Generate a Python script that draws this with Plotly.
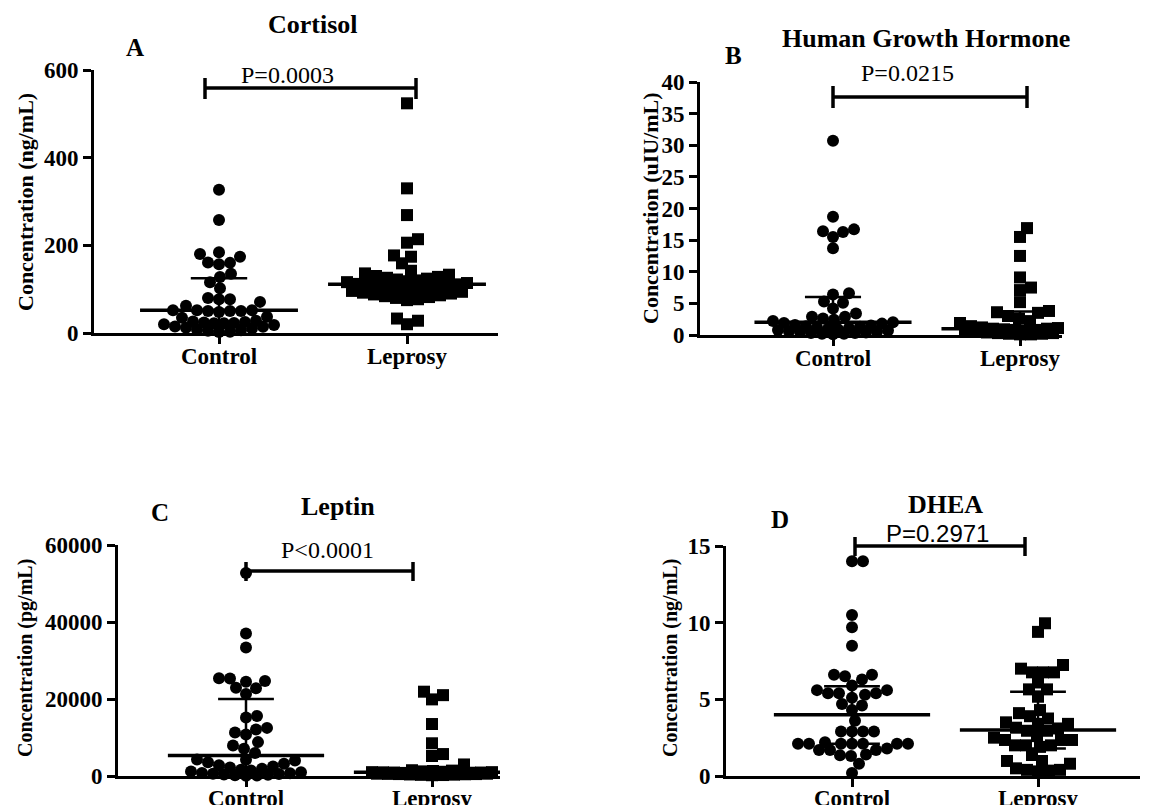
import numpy as np
import plotly.graph_objects as go

W, H = 1153, 805

categories = ["Control", "Leprosy"]

# ---- Panel A: Cortisol (ng/mL)
cortisol_control = [327, 258, 184, 174, 180, 160, 157, 161, 135, 128, 116, 102, 80, 77, 77, 71,
                    62, 52, 52, 50, 50, 52, 50, 48, 37, 35, 28, 26, 25, 24, 23, 22, 22, 20, 18,
                    15, 14, 12, 10, 8, 6, 5, 3, 2]
cortisol_leprosy = [524, 330, 269, 214, 206, 177, 174, 159, 142, 136, 133, 130, 128, 126, 124,
                    122, 120, 118, 116, 114, 112, 111, 110, 109, 108, 106, 104, 102, 100, 98, 96,
                    94, 92, 90, 88, 86, 84, 82, 80, 77, 75, 33, 28, 20]
cortisol_median = [52, 111]
cortisol_q1 = [18, 92]
cortisol_q3 = [125, 128]

# ---- Panel B: Human Growth Hormone (uIU/mL)
hgh_control = [30.7, 18.7, 16.7, 16.3, 15.5, 16.4, 13.7, 6.4, 6.6, 5.3, 5.1, 4.2, 3.4, 2.9, 2.9,
               2.4, 2.6, 2.2, 2.0, 1.9, 1.8, 1.6, 1.5, 1.4, 1.3, 1.2, 1.1, 1.0, 0.9, 0.8, 0.7,
               0.6, 0.5, 0.5, 0.4, 0.3, 0.3, 0.2, 0.2, 0.1]
hgh_leprosy = [16.9, 15.5, 12.5, 9.1, 7.5, 7.1, 5.2, 3.8, 3.6, 3.5, 3.0, 2.6, 2.2, 1.9, 1.6, 1.4,
               1.3, 1.2, 1.1, 1.0, 1.0, 0.9, 0.8, 0.8, 0.7, 0.6, 0.5, 0.5, 0.4, 0.4, 0.3, 0.3,
               0.2, 0.2, 0.1, 0.1]
hgh_median = [2.0, 1.0]
hgh_q1 = [0.7, 0.4]
hgh_q3 = [6.0, 3.7]

# ---- Panel C: Leptin (pg/mL)
leptin_control = [52700, 37000, 33400, 24700, 25400, 25300, 24500, 22900, 22800, 21300, 15200,
                  15600, 12500, 12100, 11300, 10800, 8800, 7900, 7100, 6000, 4300, 4200, 4000,
                  3600, 3200, 2800, 2500, 2200, 1900, 1600, 1400, 1200, 1000, 800, 700, 600, 500,
                  400, 300, 200, 100, 50]
leptin_leprosy = [21900, 21000, 19900, 13500, 8500, 5700, 5200, 3000, 1500, 1400, 1300, 1200,
                  1100, 1000, 1000, 950, 900, 900, 850, 800, 800, 750, 700, 700, 650, 600, 600,
                  550, 500, 500, 450, 400, 350, 300, 250, 200]
leptin_median = [5300, 960]
leptin_q1 = [1000, 400]
leptin_q3 = [20000, 1500]

# ---- Panel D: DHEA (ng/mL)
dhea_control = [14.0, 14.0, 10.5, 9.7, 8.5, 6.6, 6.5, 6.6, 6.3, 5.9, 5.6, 5.4, 5.4, 5.1, 5.3, 5.4,
                5.6, 4.7, 4.6, 4.3, 3.6, 2.9, 2.9, 2.9, 2.9, 2.2, 2.1, 2.1, 2.1, 2.1, 2.1, 2.1,
                2.1, 1.7, 1.7, 1.7, 1.8, 1.35, 1.3, 1.4, 0.8, 0.2]
dhea_leprosy = [9.96, 9.4, 7.24, 6.76, 6.76, 6.76, 7.0, 6.1, 5.65, 5.65, 5.17, 4.3, 4.1, 3.75,
                3.9, 3.5, 3.4, 3.4, 3.15, 3.1, 2.95, 2.95, 2.6, 2.35, 2.35, 2.35, 2.5, 2.0, 2.0,
                1.9, 2.0, 1.37, 0.98, 0.98, 0.8, 0.5, 0.4, 0.3, 0.35, 0.4]
dhea_median = [4.0, 3.0]
dhea_q1 = [2.1, 1.8]
dhea_q3 = [5.85, 5.5]

p_values = ["P=0.0003", "P=0.0215", "P<0.0001", "P=0.2971"]
titles = ["Cortisol", "Human Growth Hormone", "Leptin", "DHEA"]
letters = ["A", "B", "C", "D"]
y_titles = ["Concentration (ng/mL)", "Concentration (uIU/mL)",
            "Concentration (pg/mL)", "Concentration (ng/mL)"]
y_max = [600, 40, 60000, 15]
y_dtick = [200, 5, 20000, 5]

SERIF = "Liberation Serif"
SANS = "Liberation Sans"


def fx(px):
    return px / W


def fy(py):
    return 1 - py / H


panels = [
    dict(ctrl=cortisol_control, lep=cortisol_leprosy, med=cortisol_median, q1=cortisol_q1,
         q3=cortisol_q3, xpx=(94, 498), ypx=(70, 333), cat=(219, 407),
         title_at=(313, 25), letter_at=(135, 47), p_at=(287, 75), p_font=SERIF,
         ytitle_at=(25, 202), ytitle_size=22, lab_shift=-8,
         bracket=(205, 416, 88, 78, 99)),
    dict(ctrl=hgh_control, lep=hgh_leprosy, med=hgh_median, q1=hgh_q1, q3=hgh_q3,
         xpx=(700, 1062), ypx=(82, 335), cat=(833, 1020),
         title_at=(926, 38), letter_at=(733, 55), p_at=(907, 73), p_font=SERIF,
         ytitle_at=(650, 208), ytitle_size=22, lab_shift=-8,
         bracket=(833, 1027, 97, 86, 108)),
    dict(ctrl=leptin_control, lep=leptin_leprosy, med=leptin_median, q1=leptin_q1,
         q3=leptin_q3, xpx=(118, 500), ypx=(545, 776), cat=(246, 432),
         title_at=(338, 506), letter_at=(160, 512), p_at=(327, 550), p_font=SERIF,
         ytitle_at=(25, 658), ytitle_size=20, lab_shift=-9,
         bracket=(246, 413, 571, 562, 581)),
    dict(ctrl=dhea_control, lep=dhea_leprosy, med=dhea_median, q1=dhea_q1, q3=dhea_q3,
         xpx=(726, 1140), ypx=(546, 776), cat=(852, 1038),
         title_at=(945, 505), letter_at=(780, 519), p_at=(938, 533), p_font=SANS,
         ytitle_at=(670, 658), ytitle_size=20, lab_shift=-9,
         bracket=(855, 1025, 546, 537, 556)),
]


def swarm(vals, ppu_y, ppu_x, d=11.0, maxw=60):
    vals = np.asarray(vals, float)
    ys = vals * ppu_y
    order = np.argsort(ys, kind="stable")
    cands = [0.0]
    for s in np.arange(1.0, maxw + 0.1, 1.0):
        cands += [s, -s]
    cands = np.array(cands)
    px_l, py_l = [], []
    xs = np.zeros(len(vals))
    for i in order:
        y = ys[i]
        if not px_l:
            chosen = 0.0
        else:
            pxa = np.array(px_l)
            pya = np.array(py_l)
            md = np.min(np.hypot(pxa[None, :] - cands[:, None], pya[None, :] - y), axis=1)
            ok = np.where(md >= d)[0]
            chosen = cands[ok[0]] if len(ok) else cands[int(np.argmax(md))]
        xs[i] = chosen
        px_l.append(chosen)
        py_l.append(y)
    return xs / ppu_x


fig = go.Figure()
shapes = []
annotations = []
layout_axes = {}

for k, p in enumerate(panels):
    n = "" if k == 0 else str(k + 1)
    xa, ya = "x" + n, "y" + n
    u = p["cat"][1] - p["cat"][0]
    xr = [(p["xpx"][0] - p["cat"][0]) / u, (p["xpx"][1] - p["cat"][0]) / u]
    ppu_y = (p["ypx"][1] - p["ypx"][0]) / y_max[k]

    for gi, (vals, sym) in enumerate([(p["ctrl"], "circle"), (p["lep"], "square")]):
        offs = swarm(vals, ppu_y, u)
        fig.add_trace(go.Scatter(
            x=gi + offs, y=vals, mode="markers", xaxis=xa, yaxis=ya,
            marker=dict(symbol=sym, size=12, color="black", line=dict(width=0)),
            cliponaxis=False, showlegend=False, hoverinfo="y"))
        # median line
        fig.add_trace(go.Scatter(
            x=[gi - 0.42, gi + 0.42], y=[p["med"][gi]] * 2, mode="lines",
            xaxis=xa, yaxis=ya, line=dict(color="black", width=3.5),
            cliponaxis=False, showlegend=False, hoverinfo="skip"))
        # IQR whisker
        cw = 0.15
        fig.add_trace(go.Scatter(
            x=[gi - cw, gi + cw, None, gi, gi, None, gi - cw, gi + cw],
            y=[p["q3"][gi], p["q3"][gi], None, p["q3"][gi], p["q1"][gi], None,
               p["q1"][gi], p["q1"][gi]],
            mode="lines", xaxis=xa, yaxis=ya, line=dict(color="black", width=2.5),
            cliponaxis=False, showlegend=False, hoverinfo="skip"))

    layout_axes["xaxis" + n] = dict(
        domain=[fx(p["xpx"][0]), fx(p["xpx"][1])], range=xr, anchor=ya,
        tickvals=[0, 1], ticktext=categories, showline=True, linecolor="black",
        linewidth=3, ticks="outside", ticklen=8, tickwidth=3, tickcolor="black",
        showgrid=False, zeroline=False, fixedrange=True, automargin=False,
        ticklabelstandoff=p["lab_shift"],
        tickfont=dict(family=SERIF, size=23, color="black", weight="bold"))
    layout_axes["yaxis" + n] = dict(
        domain=[fy(p["ypx"][1]), fy(p["ypx"][0])], range=[0, y_max[k]], anchor=xa,
        dtick=y_dtick[k], tick0=0, tickformat="d", showline=True, linecolor="black",
        linewidth=3, ticks="outside", ticklen=8, tickwidth=3, tickcolor="black",
        showgrid=False, zeroline=False, fixedrange=True, automargin=False,
        tickfont=dict(family=SERIF, size=23, color="black", weight="bold"))

    bx0, bx1, by, bt0, bt1 = p["bracket"]
    for (x0, y0, x1, y1) in [(bx0, by, bx1, by), (bx0, bt0, bx0, bt1), (bx1, bt0, bx1, bt1)]:
        shapes.append(dict(type="line", xref="paper", yref="paper",
                           x0=fx(x0), y0=fy(y0), x1=fx(x1), y1=fy(y1),
                           line=dict(color="black", width=3.5)))

    annotations.append(dict(text="<b>%s</b>" % titles[k], x=fx(p["title_at"][0]),
                            y=fy(p["title_at"][1]), xref="paper", yref="paper",
                            showarrow=False, xanchor="center", yanchor="middle",
                            font=dict(family=SERIF, size=26, color="black")))
    annotations.append(dict(text="<b>%s</b>" % letters[k], x=fx(p["letter_at"][0]),
                            y=fy(p["letter_at"][1]), xref="paper", yref="paper",
                            showarrow=False, xanchor="center", yanchor="middle",
                            font=dict(family=SERIF, size=25, color="black")))
    annotations.append(dict(text=p_values[k].replace("<", "&lt;"), x=fx(p["p_at"][0]),
                            y=fy(p["p_at"][1]), xref="paper", yref="paper",
                            showarrow=False, xanchor="center", yanchor="middle",
                            font=dict(family=p["p_font"], size=24, color="black")))
    annotations.append(dict(text="<b>%s</b>" % y_titles[k], x=fx(p["ytitle_at"][0]),
                            y=fy(p["ytitle_at"][1]), xref="paper", yref="paper",
                            showarrow=False, xanchor="center", yanchor="middle",
                            textangle=-90,
                            font=dict(family=SERIF, size=p["ytitle_size"], color="black")))

fig.update_layout(
    width=W, height=H, margin=dict(l=0, r=0, t=0, b=0, autoexpand=False),
    paper_bgcolor="white", plot_bgcolor="white", showlegend=False,
    shapes=shapes, annotations=annotations, **layout_axes)

fig.write_html(
    "out.html",
    config={"displayModeBar": False},
    post_script="document.body.style.margin='0';document.body.style.overflow='hidden';")
